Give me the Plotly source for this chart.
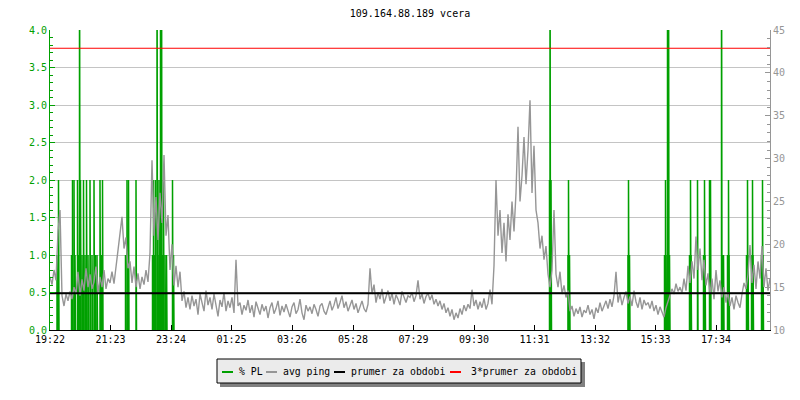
import plotly.graph_objects as go

TITLE = "109.164.88.189 vcera"

# x axis labels (time of day), first label = start of the 24h window
tick_labels = ["19:22", "21:23", "23:24", "01:25", "03:26", "05:28",
               "07:29", "09:30", "11:31", "13:32", "15:33", "17:34"]

# avg ping [ms], one sample every 4 minutes from 19:22
ping_step = 4
avg_ping = [
    16.2, 15.3, 17.0, 15.8, 21.5, 24.0, 14.0, 12.8, 14.2, 13.4,
    14.5, 13.6, 15.0, 14.2, 16.8, 14.0, 15.9, 14.6, 17.2, 15.0,
    16.5, 14.8, 15.6, 17.4, 14.3, 16.2, 15.0, 17.0, 14.8, 16.0,
    15.5, 16.8, 15.4, 17.5, 19.0, 21.0, 23.2, 19.5, 20.8, 17.2,
    18.0, 15.5, 17.4, 15.0, 16.6, 14.8, 16.2, 15.3, 17.0, 15.6,
    19.0, 29.8, 21.0, 25.5, 20.5, 26.0, 22.5, 30.4, 21.0, 23.4,
    17.0, 20.0, 15.2, 17.5, 15.0, 16.8, 13.4, 14.5, 12.6, 13.8,
    12.4, 14.0, 12.8, 13.6, 11.8, 14.2, 13.0, 12.2, 14.6, 12.9,
    13.8, 12.4, 14.2, 13.0, 11.6, 13.5, 12.7, 14.4, 12.2, 13.4,
    12.6, 13.8, 12.0, 18.2, 12.8, 13.2, 11.8, 12.9, 12.3, 13.5,
    12.0, 12.9, 11.5, 13.3, 12.4, 11.8, 13.0, 12.2, 12.8, 11.4,
    12.6, 13.2, 11.9, 12.5, 13.4, 11.7, 12.8, 12.1, 13.0, 12.3,
    11.5, 12.7, 13.2, 11.9, 12.4, 13.6, 12.0, 11.2, 12.9, 12.2,
    12.7, 11.9, 13.0, 12.4, 11.6, 12.8, 13.1, 12.2, 11.8, 12.6,
    13.4, 12.3, 12.9, 13.8, 12.5, 13.2, 14.0, 12.6, 13.3, 12.2,
    12.9, 13.5, 12.4, 13.1, 12.0, 12.7, 13.4, 12.5, 12.1, 13.0,
    17.2, 14.2, 15.3, 13.2, 14.4, 13.6, 14.8, 13.1, 14.0, 14.6,
    13.4, 14.3, 13.0, 14.1, 13.6, 12.9, 14.5, 13.7, 13.2, 14.0,
    13.8, 14.4, 13.3, 14.0, 15.8, 13.6, 14.2, 13.1, 13.9, 14.3,
    13.5, 14.1, 13.0, 13.6, 12.8, 13.4, 12.4, 13.1, 12.0, 12.6,
    11.6, 12.4, 11.2, 12.0, 11.4, 12.5, 11.8, 12.9, 12.2, 13.0,
    12.5, 14.7, 12.8, 13.5, 12.4, 13.3, 12.6, 13.7, 12.4, 13.1,
    14.7, 13.0, 17.5, 27.5, 21.0, 24.0, 19.0, 22.5, 18.0, 23.5,
    20.5, 25.0, 21.5, 26.0, 33.7, 25.0, 28.0, 32.5, 27.0, 31.0,
    36.8, 26.0, 31.5, 24.0, 22.5, 19.5, 21.0, 18.2, 19.8, 16.5,
    15.0, 17.0, 24.0, 16.5, 15.0, 16.8, 14.2, 15.2, 13.8, 14.6,
    12.2, 12.8, 11.6, 12.5, 11.9, 12.7, 11.5, 12.3, 12.0, 12.9,
    11.8, 12.4, 11.3, 12.6, 12.0, 13.2, 12.2, 12.8, 13.4, 12.5,
    13.6, 12.7, 14.0, 16.8, 13.2, 14.3, 12.9, 13.8, 14.5, 13.1,
    13.9, 12.8, 14.6, 13.3, 12.6, 13.8, 12.4, 13.5, 12.9, 13.2,
    12.5, 13.4, 12.2, 12.9, 11.8, 12.7, 12.0, 11.5, 12.6, 13.3,
    14.0, 14.8, 14.2, 15.4, 14.5, 15.0, 14.3, 16.0, 14.6, 17.5,
    15.5, 18.0, 16.0, 20.9, 17.0, 19.5, 15.8, 18.2, 15.2, 16.6,
    14.2, 16.0, 13.6, 17.0, 14.5, 15.8, 13.8, 15.0, 13.2, 14.4,
    12.8, 13.8, 12.4, 14.0, 13.2, 12.6, 14.2, 15.5, 14.8, 16.5,
    19.9, 15.5, 17.6, 14.8, 18.0, 16.0, 19.8, 15.0, 17.2, 14.6,
    16.0,
]

# packet loss spikes: minutes after 19:22 and % PL (values above 4 are clipped)
pl_minutes = [14, 17, 43, 45, 48, 50, 55, 57, 59, 61, 64, 67, 70, 73, 76, 80,
              84, 88, 91, 94, 100, 103, 105, 151, 154, 157, 172,
              205, 207, 209, 211, 214, 216, 218, 221, 223, 225, 227, 230, 233,
              245, 247,
              999, 1000, 1002, 1036, 1037, 1039, 1156, 1157, 1159,
              1229, 1231, 1232, 1235, 1237, 1239, 1279, 1281, 1282, 1295,
              1307, 1309, 1310, 1319, 1321, 1343, 1345, 1347,
              1355, 1357, 1358, 1393, 1395, 1396, 1403, 1405, 1406,
              1423, 1425, 1426]
pl_values = [1, 2, 1, 2, 2, 1, 2, 1, 6, 2, 1, 2, 1, 2, 1, 2,
             1, 2, 1, 1, 2, 1, 2, 1, 2, 2, 2,
             1, 2, 1, 2, 6, 1, 2, 6, 6, 1, 2, 1, 1,
             2, 1,
             2, 6, 2, 1, 2, 1, 1, 2, 1,
             1, 2, 1, 6, 6, 1, 1, 2, 1, 2,
             1, 2, 1, 2, 2, 6, 1, 1,
             1, 2, 1, 1, 2, 1, 1, 2, 1,
             1, 2, 1]

period_avg = 14.29   # prumer za obdobi [ms]

GREEN = "#00a000"
GRAY = "#969696"
FONT = "DejaVu Sans Mono"

def to_min(label):
    h, m = map(int, label.split(":"))
    return h * 60 + m

start = to_min(tick_labels[0])
tick_vals = [(to_min(t) - start) % 1440 for t in tick_labels]

ping_x = [i * ping_step for i in range(len(avg_ping))]

# packet loss drawn as thin vertical spikes
pl_x, pl_y = [], []
for t, v in zip(pl_minutes, pl_values):
    pl_x += [t, t, t + 1, t + 1, None]
    pl_y += [0, v, v, 0, None]

fig = go.Figure()

fig.add_trace(go.Scatter(x=pl_x, y=pl_y, mode="lines", name="% PL",
                         line=dict(color=GREEN, width=1.5), yaxis="y"))
fig.add_trace(go.Scatter(x=ping_x, y=avg_ping, mode="lines", name="avg ping",
                         line=dict(color=GRAY, width=1.4), yaxis="y2"))
fig.add_trace(go.Scatter(x=[0, 1440], y=[period_avg] * 2, mode="lines",
                         name="prumer za obdobi",
                         line=dict(color="black", width=2), yaxis="y2"))
fig.add_trace(go.Scatter(x=[0, 1440], y=[3 * period_avg] * 2, mode="lines",
                         name="3*prumer za obdobi",
                         line=dict(color="red", width=1), yaxis="y2"))

# page pixel layout (the page body adds an 8px offset to the figure)
OFF = 8
W, H = 800 - OFF, 400 - OFF
L, R, T, B = 50, 770, 30, 330   # plot area in page pixels

def px(x):
    return (x - L) / (R - L)
def py(y):
    return (B - y) / (B - T)

# hand made legend box below the plot
shapes = [
    dict(type="rect", xref="paper", yref="paper", x0=px(220), x1=px(585),
         y0=py(362), y1=py(387), fillcolor="#808080", line=dict(width=0)),
    dict(type="rect", xref="paper", yref="paper", x0=px(217), x1=px(581),
         y0=py(359), y1=py(383), fillcolor="#ebebeb",
         line=dict(color="black", width=1)),
]
annotations = []
items = [("% PL", GREEN, 222, 237), ("avg ping", GRAY, 266, 281),
         ("prumer za obdobi", "black", 334, 349),
         ("3*prumer za obdobi", "red", 450, 469)]
for name, col, lx, tx in items:
    shapes.append(dict(type="line", xref="paper", yref="paper",
                       x0=px(lx), x1=px(lx + 11), y0=py(372), y1=py(372),
                       line=dict(color=col, width=2)))
    annotations.append(dict(text=name, xref="paper", yref="paper",
                            x=px(tx), y=py(371), xanchor="left", yanchor="middle",
                            showarrow=False,
                            font=dict(family=FONT, size=9.8, color="black")))

fig.update_layout(
    width=W, height=H,
    paper_bgcolor="white", plot_bgcolor="white",
    font=dict(family=FONT, size=10, color="black"),
    title=dict(text=TITLE, x=0.5, xref="paper", y=1 - (13 - OFF) / H,
               yref="container", yanchor="middle",
               font=dict(family=FONT, size=10, color="black")),
    margin=dict(l=L - OFF, r=W - (R - OFF), t=T - OFF, b=H - (B - OFF)),
    showlegend=False,
    shapes=shapes,
    annotations=annotations,
    xaxis=dict(range=[0, 1440], tickvals=tick_vals, ticktext=tick_labels,
               ticks="inside", ticklen=5, tickcolor="black", automargin=False,
               showline=True, linecolor="black", linewidth=1,
               showgrid=False, zeroline=False,
               tickfont=dict(family=FONT, size=10, color="black")),
    yaxis=dict(range=[0, 4], dtick=0.5, tickformat=".1f", automargin=False,
               ticks="inside", ticklen=5, tickcolor=GREEN,
               showline=True, linecolor=GREEN, linewidth=1,
               showgrid=True, gridcolor="#c4c4c4", gridwidth=1, zeroline=False,
               minor=dict(dtick=0.1, ticks="inside", ticklen=3,
                          tickcolor=GREEN, showgrid=False),
               tickfont=dict(family=FONT, size=10, color=GREEN)),
    yaxis2=dict(range=[10, 45], dtick=5, overlaying="y", side="right",
                automargin=False,
                ticks="inside", ticklen=5, tickcolor=GRAY,
                showline=True, linecolor=GRAY, linewidth=1,
                showgrid=False, zeroline=False,
                minor=dict(dtick=1, ticks="inside", ticklen=3,
                           tickcolor=GRAY, showgrid=False),
                tickfont=dict(family=FONT, size=10, color=GRAY)),
)

fig.write_html("out.html")
